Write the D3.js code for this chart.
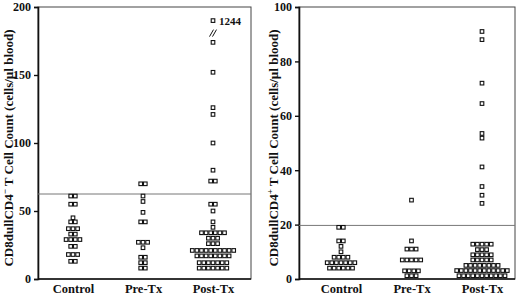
<!DOCTYPE html>
<html>
<head>
<meta charset="utf-8">
<script src="https://cdn.jsdelivr.net/npm/d3@7"></script>
<style>
  body { margin: 0; background: #fff; }
  text { font-family: "Liberation Serif", "DejaVu Serif", serif; font-weight: bold; fill: #111; }
</style>
</head>
<body>
<script>
var w = 520;
var h = 296;

// categories on the x axis
var groups = ["Control", "Pre-Tx", "Post-Tx"];

// left panel: CD8dull CD4- counts (cells/ul), one entry per subject
var leftControl = [61, 61, 55, 55, 45, 42, 42, 37, 37, 37, 33, 33, 29, 29, 29, 29, 24, 24, 18, 18, 18, 13, 13];
var leftPre = [70, 70, 61, 57, 49, 42, 42, 27, 27, 27, 23, 16, 16, 12, 12, 8, 8];
var leftPost = [1244, 174, 152, 126, 121, 100, 80, 72, 72, 55, 55, 50, 42, 38,
                34, 34, 34, 34, 34, 34, 30, 30, 30, 26, 26, 26,
                21, 21, 21, 21, 21, 21, 21, 21, 21, 21,
                17, 17, 17, 17, 17, 17, 17, 17,
                12, 12, 12, 12, 12, 12, 12,
                8, 8, 8, 8, 8, 8, 8];
var leftCutoff = 62.5;
var leftTicks = [0, 50, 100, 150, 200];

// right panel: CD8dull CD4+ counts (cells/ul)
var rightControl = [19, 19, 14, 14, 12, 10, 8, 8, 8, 8, 6, 6, 6, 6, 6, 6, 6, 4, 4, 4, 4, 4, 4];
var rightPre = [29, 14, 11, 11, 11, 7, 7, 7, 7, 7, 3, 3, 3, 3, 1.2, 1.2, 1.2];
var rightPost = [91, 88, 72, 64.5, 53.5, 51.8, 41.2, 34, 30.8, 27.8,
                 12.8, 12.8, 12.8, 12.8, 12.8, 10.8, 10.8, 10.8,
                 8.9, 8.9, 8.9, 8.9, 8.9, 7, 7, 7, 7, 7,
                 5, 5, 5, 5, 5, 5, 5, 5,
                 3.1, 3.1, 3.1, 3.1, 3.1, 3.1, 3.1, 3.1, 3.1, 3.1, 3.1, 3.1,
                 1.2, 1.2, 1.2, 1.2, 1.2, 1.2, 1.2, 1.2, 1.2, 1.2, 1.2];
var rightCutoff = 19.7;
var rightTicks = [0, 20, 40, 60, 80, 100];

var svg = d3.select("body")
            .append("svg")
            .attr("width", w)
            .attr("height", h);

var plotTop = 7;
var plotBottom = 279;
var sq = 3.6;      // marker size
var step = 4.6;    // horizontal distance between side-by-side markers

function drawPanel(opt) {
    var g = svg.append("g");

    var yScale = d3.scaleLinear()
                   .domain([0, opt.max])
                   .range([plotBottom, plotTop]);

    var xScale = d3.scalePoint()
                   .domain(groups)
                   .range(opt.xRange);

    // frame (thin) then the heavier left / bottom axes
    g.append("rect")
     .attr("x", opt.left)
     .attr("y", plotTop)
     .attr("width", opt.right - opt.left)
     .attr("height", plotBottom - plotTop)
     .attr("fill", "none")
     .attr("stroke", "#444")
     .attr("stroke-width", 1);

    var yAxis = d3.axisLeft(yScale)
                  .tickValues(opt.ticks)
                  .tickSize(4)
                  .tickPadding(3);

    var ya = g.append("g")
              .attr("transform", "translate(" + opt.left + ",0)")
              .call(yAxis);
    ya.select(".domain").attr("stroke", "#111").attr("stroke-width", 1.6);
    ya.selectAll(".tick line").attr("stroke", "#111").attr("stroke-width", 1.4);
    ya.selectAll(".tick text")
      .style("font-family", "Liberation Serif")
      .style("font-weight", "bold")
      .style("font-size", "12px")
      .attr("fill", "#111");

    var xAxis = d3.axisBottom(xScale).tickSize(0).tickPadding(5);
    var xa = g.append("g")
              .attr("transform", "translate(0," + plotBottom + ")")
              .call(xAxis);
    xa.select(".domain")
      .attr("d", "M" + opt.left + ",0H" + opt.right)
      .attr("stroke", "#111").attr("stroke-width", 1.6);
    xa.selectAll(".tick text")
      .style("font-family", "Liberation Serif")
      .style("font-weight", "bold")
      .style("font-size", "12.5px")
      .attr("fill", "#111");

    // normal range cutoff line
    g.append("line")
     .attr("x1", opt.left)
     .attr("x2", opt.right)
     .attr("y1", yScale(opt.cutoff))
     .attr("y2", yScale(opt.cutoff))
     .attr("stroke", "#777")
     .attr("stroke-width", 1);

    // y title with superscript sign
    var title = g.append("text")
                 .attr("transform", "translate(" + opt.titleX + ",148) rotate(-90)")
                 .attr("text-anchor", "middle")
                 .style("font-size", "13px");
    title.append("tspan").text("CD8dullCD4");
    title.append("tspan").attr("dy", -5).style("font-size", "9px").text(opt.sign);
    title.append("tspan").attr("dy", 5).text(" T Cell Count (cells/\u00b5l blood)");

    // markers: equal values sit side by side, centred on the category
    var points = [];
    opt.series.forEach(function (vals, gi) {
        var counts = d3.rollup(vals, function (v) { return v.length; }, function (d) { return d; });
        var seen = new Map();
        vals.forEach(function (v) {
            var n = counts.get(v);
            var k = seen.get(v) || 0;
            seen.set(v, k + 1);
            points.push({ group: groups[gi], value: v, offset: (k - (n - 1) / 2) * step });
        });
    });

    g.selectAll("rect.pt")
     .data(points)
     .enter()
     .append("rect")
     .attr("class", "pt")
     .attr("x", function (d) { return xScale(d.group) + d.offset - sq / 2; })
     .attr("y", function (d) {
         var v = d.value > opt.max ? opt.breakAt : d.value;
         return yScale(v) - sq / 2;
     })
     .attr("width", sq)
     .attr("height", sq)
     .attr("fill", "#fff")
     .attr("stroke", "#111")
     .attr("stroke-width", 1.1);

    // off-scale values: label and break mark
    var off = points.filter(function (d) { return d.value > opt.max; });
    off.forEach(function (d) {
        var cx = xScale(d.group);
        var cy = yScale(opt.breakAt);
        g.append("text")
         .attr("x", cx + 6)
         .attr("y", cy + 4)
         .style("font-size", "11px")
         .text(d.value);
        [-1.5, 1.5].forEach(function (dx) {
            g.append("line")
             .attr("x1", cx + dx - 2).attr("y1", cy + 16)
             .attr("x2", cx + dx + 2).attr("y2", cy + 9)
             .attr("stroke", "#111").attr("stroke-width", 1);
        });
    });
}

drawPanel({
    left: 38, right: 251, xRange: [73, 213], max: 200, ticks: leftTicks,
    cutoff: leftCutoff, sign: "\u2212", titleX: 13, breakAt: 190,
    series: [leftControl, leftPre, leftPost]
});

drawPanel({
    left: 299, right: 515, xRange: [341, 482], max: 100, ticks: rightTicks,
    cutoff: rightCutoff, sign: "+", titleX: 278, breakAt: 95,
    series: [rightControl, rightPre, rightPost]
});
</script>
</body>
</html>
